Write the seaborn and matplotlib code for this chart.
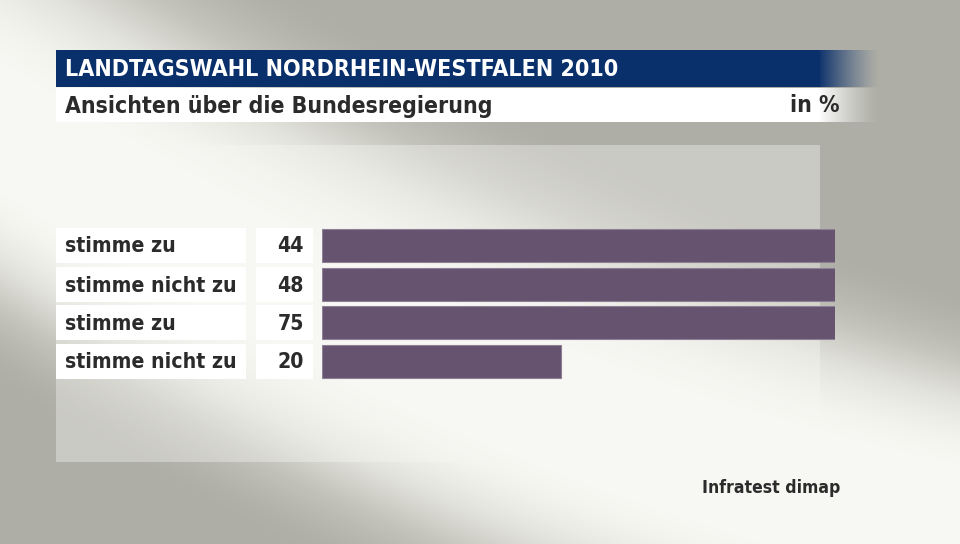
import numpy as np
import pandas as pd
import matplotlib
matplotlib.use("Agg")
import matplotlib.pyplot as plt
import seaborn as sns
from matplotlib.colors import LinearSegmentedColormap

categories = ["stimme zu", "stimme nicht zu", "stimme zu", "stimme nicht zu"]
values = [44, 48, 75, 20]
value_labels = ["44", "48", "75", "20"]
title = "LANDTAGSWAHL NORDRHEIN-WESTFALEN 2010"
subtitle = "Ansichten über die Bundesregierung"
unit = "in %"
source = "Infratest dimap"

sns.set_theme(style="white")
plt.rcParams['font.family'] = ['DejaVu Sans']

W, H = 960, 544
fig = plt.figure(figsize=(9.6, 5.44), dpi=100)

def px_axes(x0, y0, x1, y1, **kw):
    return fig.add_axes([x0 / W, 1 - y1 / H, (x1 - x0) / W, (y1 - y0) / H], **kw)

TXT = dict(family="DejaVu Sans", fontstretch="condensed", fontweight="bold", color="#2b2b2b")

def smooth(t):
    t = np.clip(t, 0, 1)
    return t * t * (3 - 2 * t)

# background: curved diagonal light band
bg = px_axes(0, 0, W, H)
yy, xx = np.mgrid[0:H, 0:W].astype(float)
yc = 130 + 0.625 * xx - 0.000217 * xx ** 2
d = (yy - yc) * 0.92
w_above = 260 - 90 * xx / W
light = np.where(d < 0,
                 1 - smooth((-d - 55) / w_above),
                 1 - smooth((d - 50) / 190))
cmap = LinearSegmentedColormap.from_list("bg", ["#aeaea6", "#c4c4bc", "#e2e2dc", "#f7f8f3"])
bg.imshow(light, cmap=cmap, vmin=0, vmax=1, aspect="auto", extent=[0, W, H, 0])
# lighter panel
bg.add_patch(plt.Rectangle((56, 145), 764, 317, color="#f7f8f3", alpha=0.38, lw=0, zorder=2))

# header band with fade
blue = np.array([0x0a, 0x30, 0x6c]) / 255
bg.add_patch(plt.Rectangle((56, 50), 764, 37, color=blue, lw=0, zorder=3))
fade = np.zeros((1, 100, 4))
fade[..., :3] = blue
fade[..., 3] = np.linspace(1, 0, 100) ** 1.3
bg.imshow(fade, extent=[818, 880, 87, 50], aspect="auto", zorder=3)
bg.add_patch(plt.Rectangle((56, 88), 764, 34, color="white", lw=0, zorder=3))
fadew = np.ones((1, 100, 4))
fadew[..., 3] = np.linspace(1, 0, 100) ** 1.3
bg.imshow(fadew, extent=[818, 880, 122, 88], aspect="auto", zorder=3)

bg.text(65, 70, title, fontsize=16.7, va="center", ha="left", zorder=5,
        **{**TXT, "color": "white"})
bg.text(65, 106, subtitle, fontsize=16.5, va="center", ha="left", zorder=5, **TXT)
bg.text(840, 106, unit, fontsize=16.5, va="center", ha="right", zorder=5, **TXT)
bg.text(840, 488, source, fontsize=12.6, va="center", ha="right", zorder=5, **TXT)

row_tops = [229, 268, 306, 345]
row_h = 33
for i, (cat, lab) in enumerate(zip(categories, value_labels)):
    t = row_tops[i]
    bg.add_patch(plt.Rectangle((56, t - 1), 190, row_h + 2, color="white", lw=0, zorder=4))
    bg.add_patch(plt.Rectangle((256, t - 1), 57, row_h + 2, color="white", lw=0, zorder=4))
    bg.text(65, t + row_h / 2 + 1, cat, fontsize=15.2, va="center", ha="left", zorder=5, **TXT)
    bg.text(304, t + row_h / 2 + 1, lab, fontsize=15.2, va="center", ha="right", zorder=5, **TXT)

bg.set_xlim(0, W)
bg.set_ylim(H, 0)
bg.axis("off")

# bars
x0_px, x1_px = 322, 835
px_per_unit = (561 - 322) / 20.0
xmax = (x1_px - x0_px) / px_per_unit
ax = px_axes(x0_px, 229 - 2.5, x1_px, 378 + 2.5)
df = pd.DataFrame({"row": [str(i) for i in range(len(values))], "value": values})
sns.barplot(data=df, x="value", y="row", ax=ax, color="#66536f", saturation=1,
            width=0.87, edgecolor="#8e7f96", linewidth=0.8)
ax.set_xlim(0, xmax)
ax.axis("off")
ax.patch.set_alpha(0)

fig.savefig("out.png", dpi=100)
